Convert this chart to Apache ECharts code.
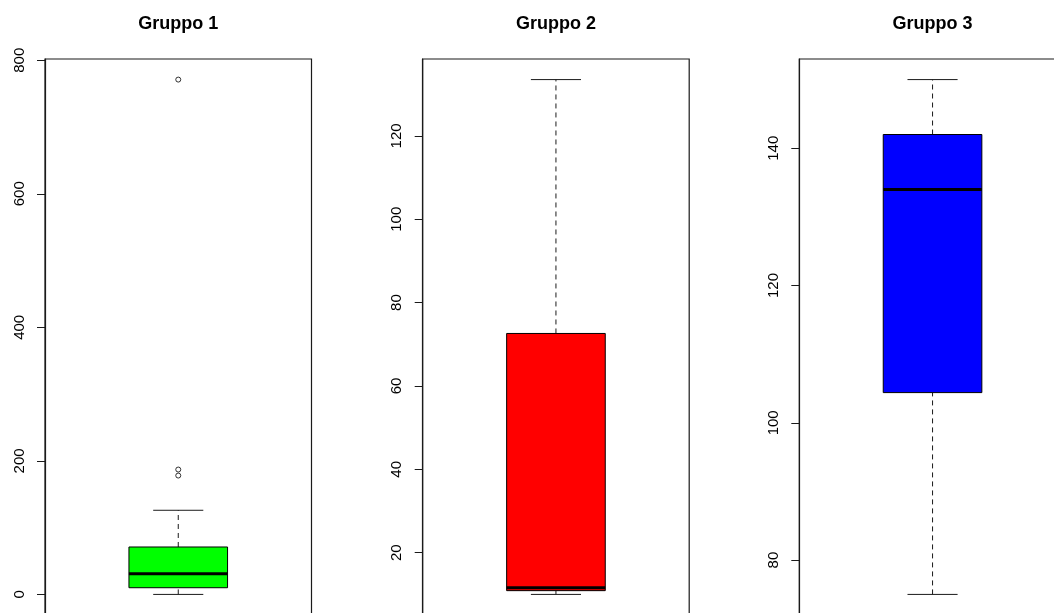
<!DOCTYPE html>
<html>
<head>
<meta charset="utf-8">
<title>Gruppi</title>
<script src="https://cdn.jsdelivr.net/npm/echarts@6/dist/echarts.min.js"></script>
<style>
  html, body { margin: 0; padding: 0; background: #ffffff; }
  #chart { width: 1054px; height: 613px; }
</style>
</head>
<body>
<div id="chart"></div>
<script>
// Group names
const groups = ['Gruppo 1', 'Gruppo 2', 'Gruppo 3'];

// Five-number summaries: [lower whisker, Q1, median, Q3, upper whisker]
const stats1 = [0, 10, 31, 71, 126];
const stats2 = [10, 10.9, 11.6, 72.6, 133.5];
const stats3 = [75, 104.4, 134, 142, 150];

// Points beyond the whiskers
const outliers1 = [178, 187, 771];
const outliers2 = [];
const outliers3 = [];

// Tick labels per panel
const ticks1 = [0, 200, 400, 600, 800];
const ticks2 = [20, 40, 60, 80, 100, 120];
const ticks3 = [80, 100, 120, 140];

// Fill colours
const fills = ['#00ff00', '#ff0000', '#0000ff'];

const allStats = [stats1, stats2, stats3];
const allOutliers = [outliers1, outliers2, outliers3];
const allTicks = [ticks1, ticks2, ticks3];

// Panel layout
const panelLeft = [45, 422.7, 799.3];
const panelWidth = 266.5;
const panelTop = 59;
const panelHeight = 556;

// Value range with 4% padding on both ends
function paddedRange(stats, outs) {
  const vals = stats.concat(outs);
  const lo = Math.min.apply(null, vals);
  const hi = Math.max.apply(null, vals);
  const pad = (hi - lo) * 0.04;
  return [lo - pad, hi + pad];
}

const ink = '#1a1a1a';

function renderBox(params, api) {
  const band = api.size([1, 0])[0];
  const half = band * 0.185;
  const capHalf = band * 0.094;
  const pMin = api.coord([api.value(0), api.value(1)]);
  const pQ1 = api.coord([api.value(0), api.value(2)]);
  const pMed = api.coord([api.value(0), api.value(3)]);
  const pQ3 = api.coord([api.value(0), api.value(4)]);
  const pMax = api.coord([api.value(0), api.value(5)]);
  const cx = pMed[0];
  const fill = fills[params.seriesIndex / 2 | 0];
  const dashed = { stroke: ink, lineWidth: 1, lineDash: [5, 4] };
  const solid = { stroke: ink, lineWidth: 1 };
  return {
    type: 'group',
    children: [
      { type: 'line', shape: { x1: cx, y1: pQ3[1], x2: cx, y2: pMax[1] }, style: dashed },
      { type: 'line', shape: { x1: cx, y1: pMin[1], x2: cx, y2: pQ1[1] }, style: dashed },
      { type: 'line', shape: { x1: cx - capHalf, y1: pMax[1], x2: cx + capHalf, y2: pMax[1] }, style: solid },
      { type: 'line', shape: { x1: cx - capHalf, y1: pMin[1], x2: cx + capHalf, y2: pMin[1] }, style: solid },
      { type: 'rect', shape: { x: cx - half, y: pQ3[1], width: half * 2, height: pQ1[1] - pQ3[1] },
        style: { fill: fill, stroke: '#000', lineWidth: 1 } },
      { type: 'line', shape: { x1: cx - half, y1: pMed[1], x2: cx + half, y2: pMed[1] },
        style: { stroke: '#000', lineWidth: 3 } }
    ]
  };
}

const titles = [], gridList = [], xAxes = [], yAxes = [], seriesList = [];

groups.forEach(function (name, i) {
  const range = paddedRange(allStats[i], allOutliers[i]);
  titles.push({
    text: name,
    left: panelLeft[i] + panelWidth / 2,
    top: 15,
    padding: 0,
    textAlign: 'center',
    textStyle: { fontFamily: 'Liberation Sans, Arial, sans-serif', fontSize: 18, fontWeight: 'bold', color: '#000' }
  });
  gridList.push({
    left: panelLeft[i], top: panelTop, width: panelWidth, height: panelHeight,
    outerBoundsMode: 'none', containLabel: false,
    show: true, borderColor: ink, borderWidth: 1.2, backgroundColor: 'transparent'
  });
  xAxes.push({
    type: 'category', gridIndex: i, data: [name], show: false, boundaryGap: true
  });
  yAxes.push({
    type: 'value', gridIndex: i, min: range[0], max: range[1],
    axisLine: { show: true, lineStyle: { color: ink, width: 1.2 } },
    axisTick: { show: true, length: 8, customValues: allTicks[i], lineStyle: { color: ink, width: 1 } },
    axisLabel: {
      show: true, customValues: allTicks[i], rotate: 90, margin: 18,
      fontFamily: 'Liberation Sans, Arial, sans-serif', fontSize: 15, color: '#000'
    },
    splitLine: { show: false }
  });
  const s = allStats[i];
  seriesList.push({
    type: 'custom', xAxisIndex: i, yAxisIndex: i,
    renderItem: renderBox,
    encode: { x: 0, y: [1, 2, 3, 4, 5] },
    data: [[0, s[0], s[1], s[2], s[3], s[4]]],
    silent: true
  });
  seriesList.push({
    type: 'scatter', xAxisIndex: i, yAxisIndex: i,
    symbol: 'circle', symbolSize: 5,
    itemStyle: { color: '#fff', borderColor: '#000', borderWidth: 1 },
    data: allOutliers[i].map(function (v) { return [0, v]; }),
    silent: true
  });
});

const chart = echarts.init(document.getElementById('chart'), null, { renderer: 'canvas' });
chart.setOption({
  animation: false,
  backgroundColor: '#ffffff',
  title: titles,
  grid: gridList,
  xAxis: xAxes,
  yAxis: yAxes,
  series: seriesList
});
</script>
</body>
</html>
